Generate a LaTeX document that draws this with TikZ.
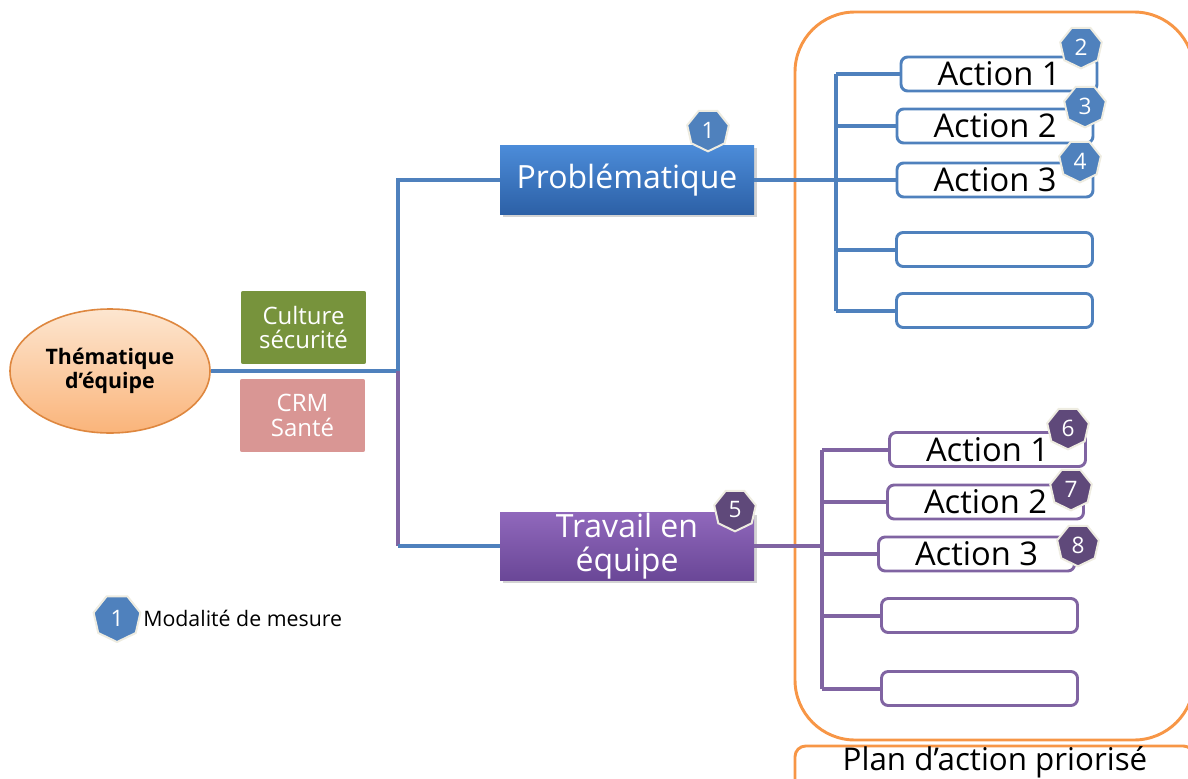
\documentclass[tikz,border=0pt]{standalone}
\usepackage{fontspec}
\setmainfont{Open Sans}
\usetikzlibrary{shapes.geometric,shadows}
\definecolor{lblue}{HTML}{4F81BD}
\definecolor{lpurp}{HTML}{8064A2}
\definecolor{dpurp}{HTML}{5F497A}
\definecolor{orng}{HTML}{F79646}
\definecolor{bdg}{HTML}{EEECE1}
\definecolor{olive}{HTML}{77933C}
\definecolor{rose}{HTML}{D99694}
\definecolor{probtop}{HTML}{4C8CD9}
\definecolor{probbot}{HTML}{2C60A6}
\definecolor{travtop}{HTML}{9068BC}
\definecolor{travbot}{HTML}{6A4797}
\definecolor{elltop}{HTML}{FDE6D0}
\definecolor{ellbot}{HTML}{FAB47A}
\tikzset{
  x=0.75pt, y=-0.75pt,
  actbox/.style={draw=#1, line width=2.2pt, rounded corners=5pt, fill=white,
     minimum width=147pt, minimum height=25.5pt, inner sep=0pt, font=\fontsize{24.5}{26}\selectfont},
  badge/.style={regular polygon, regular polygon sides=7, shape border rotate=180, fill=#1, draw=bdg,
     line width=1.5pt, minimum size=32pt, inner sep=0pt, text=white, font=\fontsize{17}{18}\selectfont},
  bline/.style={lblue, line width=3pt},
  pline/.style={lpurp, line width=3pt},
  topic/.style={draw=none, text=white, minimum width=190.5pt, inner sep=0pt, align=center,
     font=\fontsize{24}{25}\selectfont, drop shadow={opacity=0.35, shadow xshift=2pt, shadow yshift=-2pt}},
  side/.style={text=white, minimum width=95pt, minimum height=56pt, inner sep=0pt, align=center,
     rounded corners=2pt, font=\fontsize{18}{18.5}\selectfont, draw=white, line width=1pt},
}
\begin{document}
\begin{tikzpicture}
\useasboundingbox (0,0) rectangle (1188,778);
\clip (0,0) rectangle (1188,778);
% orange container and title
\draw[orng, line width=2.2pt, rounded corners=45pt] (795,12) rectangle (1194,740);
\draw[orng, line width=2.2pt, rounded corners=8pt] (795,746) rectangle (1194,800);
\node[inner sep=0pt] (plan) at (995,762) {\fontsize{23.5}{26}\selectfont Plan d’action priorisé};

% central theme
\node[ellipse, draw=orng!90!black, line width=1.2pt, top color=elltop, bottom color=ellbot, minimum width=150pt, minimum height=93pt,
  inner sep=0pt, align=center, font=\fontsize{16}{18}\selectfont\bfseries] (theme) at (110,371) {Thématique\\d’équipe};
\node[side, fill=olive] (culture) at (303.5,327.5) {Culture\\sécurité};
\node[side, fill=rose] (crm) at (302.5,415.5) {CRM\\Santé};

% topics
\node[topic, minimum height=52pt, top color=probtop, bottom color=probbot] (prob) at (627,180) {\raisebox{-2pt}{Problématique}};
\node[topic, minimum height=51pt, top color=travtop, bottom color=travbot, font=\fontsize{24}{25.5}\selectfont] (trav) at (627,546) {Travail en\\équipe};

% hub
\coordinate (hub) at (398,371);
\coordinate (low) at (398,546);
\draw[bline] (theme.east) -- (hub);
\draw[bline] (hub) |- (prob.west);
\draw[pline] (hub) -- (low);
\draw[bline] (low) -- (trav.west);

% blue actions
\node[actbox=lblue] (a1) at (999,74) {Action 1};
\node[actbox=lblue] (a2) at (995,126) {Action 2};
\node[actbox=lblue] (a3) at (995,180) {Action 3};
\node[actbox=lblue] (a4) at (994.5,249.5) {};
\node[actbox=lblue] (a5) at (994.5,310.5) {};
\coordinate (bs) at (836,180);
\draw[bline] (prob.east) -- (bs);
\draw[bline] (a1.west -| bs) -- (a5.west -| bs);
\foreach \n in {a1,a2,a3,a4,a5} \draw[bline] (\n.west -| bs) -- (\n.west);

% purple actions
\node[actbox=lpurp] (p1) at (987.5,449.5) {Action 1};
\node[actbox=lpurp] (p2) at (985.5,502) {Action 2};
\node[actbox=lpurp] (p3) at (976.5,554) {Action 3};
\node[actbox=lpurp] (p4) at (979.5,615.5) {};
\node[actbox=lpurp] (p5) at (979.5,688.5) {};
\coordinate (ps) at (822,554);
\draw[pline] (trav.east) -- (trav.east -| ps);
\draw[pline] (p1.west -| ps) -- (p5.west -| ps);
\foreach \n in {p1,p2,p3,p4,p5} \draw[pline] (\n.west -| ps) -- (\n.west);

% badges
\node[badge=lblue] (b1) at (708,130) {1};
\node[badge=lblue] (b2) at (1081,47) {2};
\node[badge=lblue] (b3) at (1085,106) {3};
\node[badge=lblue] (b4) at (1080,161) {4};
\node[badge=dpurp] (b5) at (735,510) {5};
\node[badge=dpurp] (b6) at (1068,428) {6};
\node[badge=dpurp] (b7) at (1071,489) {7};
\node[badge=dpurp] (b8) at (1078,545) {8};

% legend
\node[badge=lblue, minimum size=36pt] (lb) at (117,618) {1};
\node[anchor=west, inner sep=0pt, font=\fontsize{16}{18}\selectfont] (lt) at (143,618) {Modalité de mesure};
\end{tikzpicture}
\end{document}
